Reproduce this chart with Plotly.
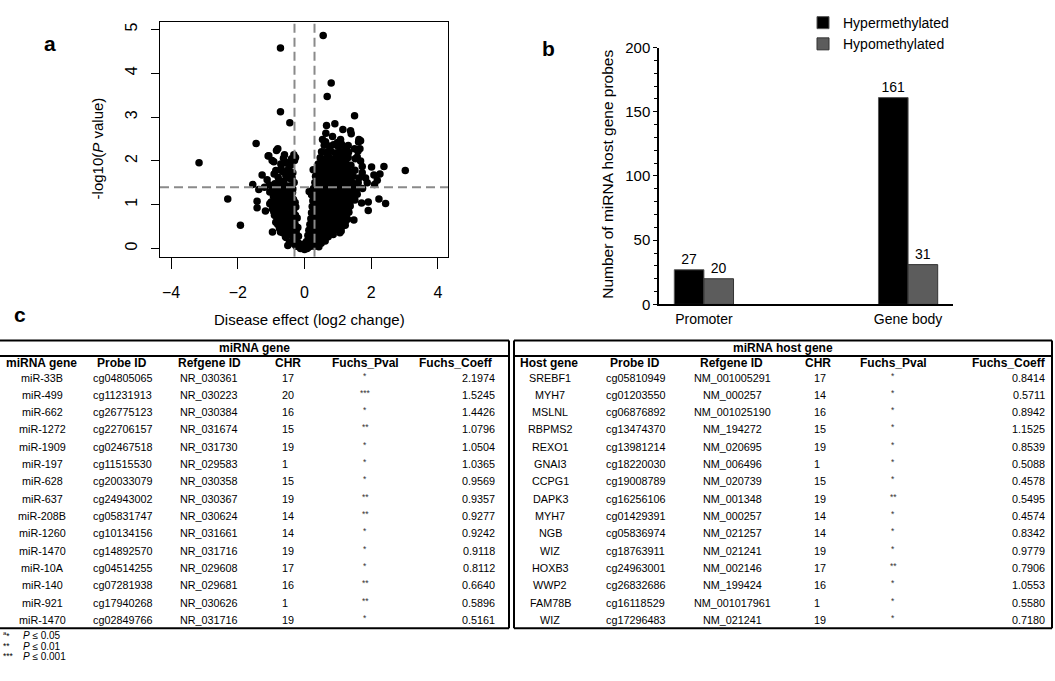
import plotly.graph_objects as go

W, H = 1055, 681
FONT = "Liberation Sans, Arial, Helvetica, sans-serif"

# ---------------- Panel a: volcano plot ----------------
outlier_x = [0.56, -0.72, 0.80, 0.68, -0.72, -0.44, 1.50, -1.45, -3.16, -2.30,
             -1.92, 3.02, 2.38, 2.43, 2.23, 1.91, 1.91, 1.71, 1.48, 2.01,
             2.08, 2.26, 2.18, 2.10, 1.88, 0.66, 0.91, 1.15, 1.38, 1.40,
             0.64, 0.54, 0.84, 1.08, 1.63, 1.68, 1.66, 1.50, 1.32, 1.23,
             1.68, 1.58, 1.73, 1.73, 1.83, 1.63, 1.48, 1.74, 1.58, 1.33,
             1.03, 1.13, 1.06, 0.78, 0.48, 0.43, -0.96, -1.04, -1.42, -1.42,
             -1.17, -1.55, -1.27, -1.12, -1.37, -1.04, -1.07, -0.92, -0.84, -0.80,
             -0.86, -0.70, -0.60, -0.52, -0.32, -0.27, -0.37, -0.50, -0.62, -0.70,
             -0.82, -0.67, -0.57, -0.50, -0.34, -0.26, -0.12, 0.00, 0.08, 0.18,
             0.26, -1.09, 0.14, 0.26]
outlier_y = [4.86, 4.58, 3.78, 3.47, 3.12, 2.87, 3.03, 2.40, 1.96, 1.13,
             0.53, 1.78, 1.87, 1.03, 1.13, 0.87, 1.06, 1.04, 0.65, 1.86,
             1.68, 1.70, 1.56, 1.46, 1.50, 2.81, 2.85, 2.72, 2.69, 2.62,
             2.63, 2.49, 2.56, 2.49, 2.49, 2.46, 2.28, 2.28, 2.20, 2.24,
             2.00, 2.09, 1.87, 1.73, 1.61, 1.61, 1.46, 1.37, 1.24, 0.94,
             0.72, 0.51, 0.36, 0.35, 0.19, 0.04, 0.38, 1.02, 0.93, 1.08,
             0.86, 1.46, 1.68, 1.57, 1.35, 1.29, 2.12, 1.98, 2.24, 2.28,
             1.78, 1.83, 2.14, 1.96, 2.14, 2.08, 1.61, 1.68, 1.53, 1.31,
             0.72, 0.53, 0.27, 0.07, 0.27, 0.07, 0.00, -0.02, 0.00, 0.05,
             0.09, 2.11, 1.30, 1.80]

left_x = [-0.45, -0.35, -0.25, -0.55, -0.42, -0.30, -0.20, -0.65, -0.15, -0.08, -0.05, -0.18,
          -0.75, -0.60, -0.46, -0.36, -0.26, -0.86, -0.70, -0.52, -0.31, -0.20,
          -0.90, -0.78, -0.63, -0.48, -0.38, -0.27, -0.96, -0.72, -0.56, -0.26, -0.85, -0.44,
          -1.00, -0.88, -0.76, -0.61, -0.47, -0.33, -0.93, -0.68, -0.53, -0.41, -0.28, -0.80,
          -0.96, -0.83, -0.71, -0.58, -0.46, -0.35, -0.89, -0.63, -0.31, -1.06, -1.20, -0.76,
          -0.79, -0.56, -0.43, -0.66, -0.48, -0.35, -0.91,
          -0.71, -0.56, -0.41, -0.30, -0.63, -0.39, -0.97,
          -0.80, -0.66, -0.42, -0.28, -0.82, -0.56, -0.42, -0.22,
          -0.92, -0.70, -0.57, -0.33, -0.95, -0.82, -0.68, -0.55, -0.40,
          -0.86, -0.63, -0.47, -0.36, -0.88, -0.75, -0.62, -0.50, -0.36,
          -0.78, -0.52, -0.40, -0.72, -0.50, -0.35, -0.25]
left_y = [0.15, 0.12, 0.05, 0.25, 0.32, 0.22, 0.14, 0.36, 0.06, 0.03, 0.10, 0.28,
          0.46, 0.50, 0.45, 0.56, 0.42, 0.60, 0.63, 0.61, 0.66, 0.48,
          0.76, 0.80, 0.73, 0.78, 0.86, 0.76, 0.90, 0.92, 0.93, 0.95, 0.86, 0.98,
          1.06, 1.01, 1.10, 1.05, 1.02, 1.12, 1.19, 1.21, 1.18, 1.23, 1.05, 1.20,
          1.35, 1.31, 1.41, 1.35, 1.43, 1.36, 1.48, 1.50, 1.51, 1.45, 1.40, 1.55,
          1.63, 1.66, 1.60, 1.76, 1.81, 1.73, 1.70,
          1.93, 1.95, 1.90, 2.01, 2.06, 2.05, 2.01,
          0.55, 0.54, 0.56, 0.55, 0.70, 0.71, 0.69, 0.70,
          0.84, 0.85, 0.83, 0.84, 1.00, 0.99, 1.00, 1.01, 0.99,
          1.13, 1.14, 1.12, 1.13, 1.27, 1.28, 1.26, 1.27, 1.28,
          1.42, 1.41, 1.43, 0.38, 0.37, 0.39, 0.38]

right_x = [0.03, 0.12, 0.20, 0.30, 0.38, 0.06, 0.16, 0.27, 0.50, 0.62,
           0.10, 0.21, 0.33, 0.45, 0.58, 0.71, 0.86, 0.13, 0.25, 0.39, 0.52, 0.66, 0.80, 0.95, 1.10,
           0.16, 0.29, 0.43, 0.57, 0.70, 0.84, 0.99, 1.12, 1.22, 0.19, 0.33, 0.47, 0.61, 0.75, 0.89, 1.03, 1.17, 1.29,
           0.21, 0.35, 0.49, 0.63, 0.77, 0.91, 1.05, 1.19, 1.33, 0.23, 0.37, 0.51, 0.65, 0.79, 0.93, 1.07, 1.21, 1.37,
           0.25, 0.39, 0.53, 0.67, 0.81, 0.95, 1.09, 1.23, 1.39, 1.51, 0.21, 0.35, 0.49, 0.63, 0.77, 0.91, 1.05, 1.19, 1.33, 1.47,
           0.27, 0.41, 0.55, 0.69, 0.83, 0.97, 1.11, 1.25, 1.39, 1.56, 0.31, 0.45, 0.59, 0.73, 0.87, 1.01, 1.15, 1.29, 1.43, 1.61,
           0.33, 0.47, 0.61, 0.75, 0.89, 1.03, 1.17, 1.31, 1.46, 0.35, 0.49, 0.63, 0.77, 0.91, 1.05, 1.19, 1.33, 1.51,
           0.41, 0.55, 0.69, 0.83, 0.97, 1.11, 1.25, 1.39, 0.47, 0.61, 0.75, 0.89, 1.03, 1.17, 1.31, 1.52,
           0.51, 0.65, 0.79, 0.93, 1.07, 1.21, 1.60, 0.59, 0.73, 0.87, 1.01, 1.13, 1.31, 0.63, 0.99, 1.09, 1.62]
right_y = [0.06, 0.03, 0.10, 0.05, 0.14, 0.16, 0.20, 0.18, 0.12, 0.17,
           0.30, 0.27, 0.31, 0.26, 0.30, 0.27, 0.32, 0.42, 0.40, 0.43, 0.38, 0.41, 0.40, 0.44, 0.40,
           0.55, 0.54, 0.56, 0.53, 0.57, 0.54, 0.56, 0.58, 0.53, 0.68, 0.69, 0.67, 0.70, 0.66, 0.69, 0.68, 0.70, 0.67,
           0.82, 0.81, 0.84, 0.80, 0.83, 0.81, 0.84, 0.80, 0.83, 0.96, 0.95, 0.97, 0.94, 0.96, 0.95, 0.98, 0.94, 0.97,
           1.09, 1.07, 1.10, 1.06, 1.09, 1.08, 1.10, 1.07, 1.09, 1.11, 1.23, 1.21, 1.24, 1.20, 1.23, 1.22, 1.24, 1.20, 1.23, 1.21,
           1.37, 1.35, 1.38, 1.34, 1.37, 1.36, 1.38, 1.34, 1.37, 1.35, 1.51, 1.49, 1.52, 1.48, 1.51, 1.50, 1.52, 1.48, 1.51, 1.50,
           1.65, 1.63, 1.66, 1.62, 1.65, 1.64, 1.66, 1.62, 1.65, 1.79, 1.77, 1.80, 1.76, 1.79, 1.78, 1.80, 1.76, 1.79,
           1.93, 1.91, 1.94, 1.90, 1.93, 1.92, 1.94, 1.90, 2.07, 2.05, 2.08, 2.04, 2.07, 2.06, 2.08, 2.05,
           2.21, 2.19, 2.22, 2.18, 2.21, 2.20, 2.22, 2.36, 2.34, 2.37, 2.33, 2.36, 2.35, 2.44, 2.42, 2.41, 2.43]

core_x = [0.22, 0.36, 0.50, 0.64, 0.78, 0.92, 1.05,
          0.24, 0.38, 0.52, 0.66, 0.80, 0.94, 1.08, 1.22,
          0.27, 0.41, 0.55, 0.69, 0.83, 0.97, 1.11, 1.25,
          0.28, 0.42, 0.56, 0.70, 0.84, 0.98, 1.12, 1.26,
          0.30, 0.44, 0.58, 0.72, 0.86, 1.00, 1.14, 1.30,
          0.31, 0.45, 0.59, 0.73, 0.87, 1.01, 1.15, 1.29, 1.43,
          0.33, 0.47, 0.61, 0.75, 0.89, 1.03, 1.17, 1.31, 1.47,
          0.36, 0.50, 0.64, 0.78, 0.92, 1.06, 1.20, 1.34, 1.50,
          0.39, 0.53, 0.67, 0.81, 0.95, 1.09, 1.23, 1.37,
          0.41, 0.55, 0.69, 0.83, 0.97, 1.11, 1.25, 1.40,
          0.44, 0.58, 0.72, 0.86, 1.00, 1.14, 1.28,
          0.50, 0.64, 0.78, 0.92, 1.06, 1.20]
core_y = [0.47, 0.48, 0.46, 0.47, 0.48, 0.47, 0.46,
          0.62, 0.61, 0.62, 0.63, 0.61, 0.62, 0.62, 0.61,
          0.75, 0.76, 0.75, 0.74, 0.76, 0.75, 0.75, 0.76,
          0.89, 0.88, 0.89, 0.90, 0.88, 0.89, 0.89, 0.88,
          1.02, 1.03, 1.02, 1.01, 1.03, 1.02, 1.02, 1.03,
          1.15, 1.16, 1.15, 1.14, 1.16, 1.15, 1.15, 1.16, 1.15,
          1.30, 1.29, 1.30, 1.31, 1.29, 1.30, 1.30, 1.29, 1.30,
          1.44, 1.45, 1.44, 1.43, 1.45, 1.44, 1.44, 1.45, 1.44,
          1.58, 1.57, 1.58, 1.59, 1.57, 1.58, 1.58, 1.57,
          1.72, 1.73, 1.72, 1.71, 1.73, 1.72, 1.72, 1.73,
          1.86, 1.85, 1.86, 1.87, 1.85, 1.86, 1.86,
          2.00, 2.01, 2.00, 1.99, 2.01, 2.00]

effect_cutoffs = [-0.3, 0.3]
pvalue_cutoff = 1.4
volcano_xticks = [-4, -2, 0, 2, 4]
volcano_yticks = [0, 1, 2, 3, 4, 5]

# ---------------- Panel b: bar chart ----------------
regions = ["Promoter", "Gene body"]
hyper_counts = [27, 161]
hypo_counts = [20, 31]
bar_yticks = [0, 50, 100, 150, 200]

# ---------------- Panel c: tables ----------------
mirna_cols = ["miRNA gene", "Probe ID", "Refgene ID", "CHR", "Fuchs_Pval", "Fuchs_Coeff"]
mirna_gene = ["miR-33B", "miR-499", "miR-662", "miR-1272", "miR-1909", "miR-197", "miR-628", "miR-637",
              "miR-208B", "miR-1260", "miR-1470", "miR-10A", "miR-140", "miR-921", "miR-1470"]
mirna_probe = ["cg04805065", "cg11231913", "cg26775123", "cg22706157", "cg02467518", "cg11515530",
               "cg20033079", "cg24943002", "cg05831747", "cg10134156", "cg14892570", "cg04514255",
               "cg07281938", "cg17940268", "cg02849766"]
mirna_refgene = ["NR_030361", "NR_030223", "NR_030384", "NR_031674", "NR_031730", "NR_029583",
                 "NR_030358", "NR_030367", "NR_030624", "NR_031661", "NR_031716", "NR_029608",
                 "NR_029681", "NR_030626", "NR_031716"]
mirna_chr = ["17", "20", "16", "15", "19", "1", "15", "19", "14", "14", "19", "17", "16", "1", "19"]
mirna_pval = ["*", "***", "*", "**", "*", "*", "*", "**", "**", "*", "*", "*", "**", "**", "*"]
mirna_coeff = ["2.1974", "1.5245", "1.4426", "1.0796", "1.0504", "1.0365", "0.9569", "0.9357",
               "0.9277", "0.9242", "0.9118", "0.8112", "0.6640", "0.5896", "0.5161"]

host_cols = ["Host gene", "Probe ID", "Refgene ID", "CHR", "Fuchs_Pval", "Fuchs_Coeff"]
host_gene = ["SREBF1", "MYH7", "MSLNL", "RBPMS2", "REXO1", "GNAI3", "CCPG1", "DAPK3", "MYH7",
             "NGB", "WIZ", "HOXB3", "WWP2", "FAM78B", "WIZ"]
host_probe = ["cg05810949", "cg01203550", "cg06876892", "cg13474370", "cg13981214", "cg18220030",
              "cg19008789", "cg16256106", "cg01429391", "cg05836974", "cg18763911", "cg24963001",
              "cg26832686", "cg16118529", "cg17296483"]
host_refgene = ["NM_001005291", "NM_000257", "NM_001025190", "NM_194272", "NM_020695", "NM_006496",
                "NM_020739", "NM_001348", "NM_000257", "NM_021257", "NM_021241", "NM_002146",
                "NM_199424", "NM_001017961", "NM_021241"]
host_chr = ["17", "14", "16", "15", "19", "1", "15", "19", "14", "14", "19", "17", "16", "1", "19"]
host_pval = ["*", "*", "*", "*", "*", "*", "*", "**", "*", "*", "*", "**", "*", "*", "*"]
host_coeff = ["0.8414", "0.5711", "0.8942", "1.1525", "0.8539", "0.5088", "0.4578", "0.5495",
              "0.4574", "0.8342", "0.9779", "0.7906", "1.0553", "0.5580", "0.7180"]

footnote_marks = ["<sup>a</sup>*", "**", "***"]
footnote_texts = ["<i>P</i> \u2264 0.05", "<i>P</i> \u2264 0.01", "<i>P</i> \u2264 0.001"]


def px(x):
    return x / W


def py(y):
    return 1 - y / H


fig = go.Figure()

# volcano
fig.add_trace(go.Scatter(
    x=outlier_x + left_x + right_x + core_x, y=outlier_y + left_y + right_y + core_y,
    mode="markers", marker=dict(color="black", size=7.5, line=dict(width=0)),
    xaxis="x", yaxis="y", showlegend=False, hoverinfo="skip"))

# bars
fig.add_trace(go.Bar(x=regions, y=hyper_counts, name="Hypermethylated",
                     marker=dict(color="black", line=dict(color="#555555", width=1)),
                     text=[str(v) for v in hyper_counts], textposition="outside",
                     textfont=dict(size=14, color="black"), cliponaxis=False,
                     xaxis="x2", yaxis="y2"))
fig.add_trace(go.Bar(x=regions, y=hypo_counts, name="Hypomethylated",
                     marker=dict(color="#5c5c5c", line=dict(color="#333333", width=1)),
                     text=[str(v) for v in hypo_counts], textposition="outside",
                     textfont=dict(size=14, color="black"), cliponaxis=False,
                     xaxis="x2", yaxis="y2"))

shapes = []
for c in effect_cutoffs:
    shapes.append(dict(type="line", xref="x", yref="y domain", x0=c, x1=c, y0=0, y1=1,
                       line=dict(color="#8a8a8a", width=2, dash="9px,5px"), layer="above"))
shapes.append(dict(type="line", xref="x domain", yref="y", x0=0, x1=1, y0=pvalue_cutoff, y1=pvalue_cutoff,
                   line=dict(color="#8a8a8a", width=2, dash="9px,5px"), layer="above"))

# table frame geometry (pixels)
T_TOP, T_SEP, T_BOT = 340, 356, 635
LEFT_T = (0, 509)
RIGHT_T = (514, 1052)
for (x0, x1) in (LEFT_T, RIGHT_T):
    for yy in (T_TOP, T_SEP, T_BOT):
        shapes.append(dict(type="line", xref="paper", yref="paper", x0=px(x0), x1=px(x1),
                           y0=py(yy), y1=py(yy), line=dict(color="black", width=2)))
for xx in (LEFT_T[1], RIGHT_T[0], RIGHT_T[1]):
    shapes.append(dict(type="line", xref="paper", yref="paper", x0=px(xx), x1=px(xx),
                       y0=py(T_TOP), y1=py(T_BOT), line=dict(color="black", width=2)))

ann = []


def text(x, y, s, size=10, anchor="center", angle=0, color="black", bold=False, yshift=0):
    if bold:
        s = "<b>" + s + "</b>"
    ann.append(dict(x=px(x), y=py(y), xref="paper", yref="paper", text=s, showarrow=False,
                    xanchor=anchor, yanchor="middle", textangle=angle, yshift=yshift,
                    font=dict(family=FONT, size=size, color=color)))


# panel labels and titles
text(50, 35, "a", size=21, bold=True)
text(548, 40, "b", size=21, bold=True)
text(20, 313, "c", size=21, bold=True)
text(309, 318, "Disease effect (log2 change)", size=15)
text(97, 143, "-log10(<i>P</i> value)", size=15, angle=-90)
text(608, 170, "Number of miRNA host gene probes", size=15.5, angle=-90)

# tables
ROW0, DY, HDR_Y, TITLE_Y = 378, 17.75, 363, 348
left_hdr_pos = [(41, "center"), (122, "center"), (209, "center"), (288, "center"), (365, "center"), (495, "right")]
left_val_pos = [(42, "center"), (122, "center"), (209, "center"), (280, "left"), (365, "center"), (497, "right")]
right_hdr_pos = [(549, "center"), (635, "center"), (731, "center"), (818, "center"), (893, "center"), (1048, "right")]
right_val_pos = [(550, "center"), (635, "center"), (732, "center"), (812, "left"), (893, "center"), (1047, "right")]

tables = [
    ("miRNA gene", LEFT_T, mirna_cols, [mirna_gene, mirna_probe, mirna_refgene, mirna_chr, mirna_pval, mirna_coeff],
     left_hdr_pos, left_val_pos),
    ("miRNA host gene", RIGHT_T, host_cols, [host_gene, host_probe, host_refgene, host_chr, host_pval, host_coeff],
     right_hdr_pos, right_val_pos),
]
for title, (x0, x1), cols, data, hpos, vpos in tables:
    text((x0 + x1) / 2, TITLE_Y, title, size=12, bold=True)
    for name, (hx, ha) in zip(cols, hpos):
        text(hx, HDR_Y, name, size=12, anchor=ha, bold=True)
    for ci, (column, (vx, va)) in enumerate(zip(data, vpos)):
        for ri, val in enumerate(column):
            if ci == 4:
                text(vx, ROW0 + ri * DY, val, size=8.5, anchor=va, color="#333333", yshift=2)
            else:
                text(vx, ROW0 + ri * DY, val, size=10.8, anchor=va)

for i, (m, t) in enumerate(zip(footnote_marks, footnote_texts)):
    text(1, 643 + i * 10.5, m, size=8.5, anchor="left")
    text(21, 643 + i * 10.5, t, size=10, anchor="left")

fig.update_layout(
    width=W, height=H, margin=dict(l=0, r=0, t=0, b=0),
    paper_bgcolor="white", plot_bgcolor="white",
    font=dict(family=FONT, color="black"),
    barmode="group", bargap=0.71, bargroupgap=0,
    shapes=shapes, annotations=ann,
    legend=dict(x=px(803), y=py(-2), xanchor="left", yanchor="top",
                font=dict(family=FONT, size=14, color="black"), bgcolor="rgba(0,0,0,0)",
                tracegroupgap=0, itemclick=False),
    xaxis=dict(domain=[px(160), px(448)], range=[-4.33, 4.30], tickvals=volcano_xticks,
               ticks="outside", ticklen=11, tickcolor="black", showline=True, mirror=True,
               linecolor="black", linewidth=1, showgrid=False, zeroline=False,
               tickfont=dict(size=16), ticklabelstandoff=10, anchor="y"),
    yaxis=dict(domain=[py(254), py(13)], range=[-0.185, 5.178], tickvals=volcano_yticks,
               ticks="outside", ticklen=8, tickcolor="black", showline=True, mirror=True,
               linecolor="black", linewidth=1, showgrid=False, zeroline=False,
               tickangle=-90, tickfont=dict(size=16), ticklabelstandoff=8, anchor="x"),
    xaxis2=dict(domain=[px(659), px(953)], type="category", range=[-0.22, 1.22],
                showline=True, linecolor="black", linewidth=1.5, ticks="", showgrid=False,
                tickfont=dict(size=14), ticklabelstandoff=1, anchor="y2"),
    yaxis2=dict(domain=[py(303), py(39.5)], range=[0, 200], tickvals=bar_yticks,
                ticks="outside", ticklen=4, tickcolor="black", showline=True, linecolor="black",
                linewidth=1.5, showgrid=False, zeroline=False, tickfont=dict(size=15),
                minor=dict(dtick=10, ticks="outside", ticklen=3, tickcolor="black", showgrid=False),
                anchor="x2"),
)

fig.write_html("out.html", config={"displayModeBar": False},
               post_script="document.body.style.margin='0';")
